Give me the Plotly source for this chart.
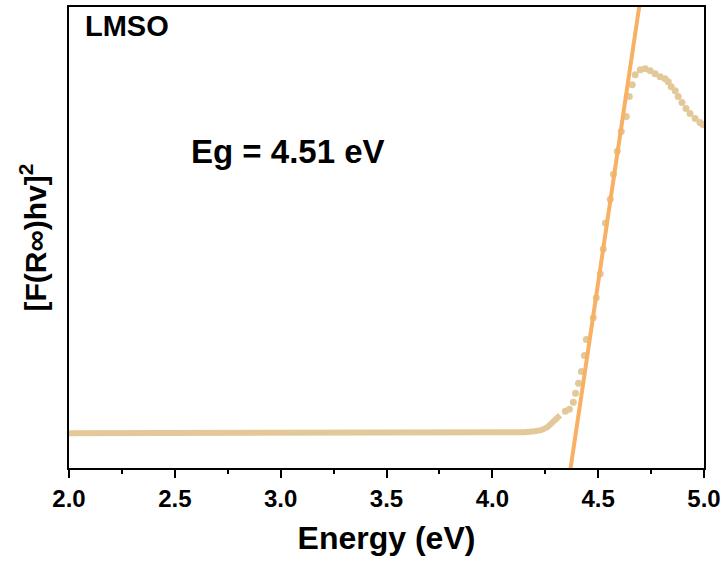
import plotly.graph_objects as go

# Baseline + knee of the Tauc curve (dense points, drawn as a thick line)
base_x = [2.0, 2.5, 3.0, 3.5, 3.9, 4.0, 4.05, 4.1, 4.15, 4.2, 4.23, 4.26, 4.28, 4.30, 4.32]
base_y = [0.35, 0.35, 0.35, 0.35, 0.35, 0.35, 0.352, 0.355, 0.36, 0.37, 0.38, 0.41, 0.45, 0.49, 0.53]

# Sparse points of the absorption edge and peak
pts_x = [4.345, 4.364, 4.383, 4.393, 4.407, 4.421, 4.435, 4.444, 4.477, 4.491, 4.510, 4.524,
         4.534, 4.557, 4.572, 4.590, 4.609, 4.633, 4.647, 4.661, 4.675, 4.699, 4.722, 4.746,
         4.769, 4.793, 4.816, 4.831, 4.845, 4.864, 4.878, 4.896, 4.915, 4.934, 4.958, 4.981, 4.995]
pts_y = [0.57, 0.59, 0.66, 0.75, 0.85, 0.97, 1.13, 1.29, 1.51, 1.71, 1.95, 2.20,
         2.46, 2.70, 2.95, 3.18, 3.38, 3.53, 3.73, 3.85, 3.95, 4.00, 4.01, 3.99,
         3.96, 3.93, 3.91, 3.88, 3.83, 3.79, 3.73, 3.67, 3.61, 3.56, 3.51, 3.47, 3.45]

# Linear fit of the edge
fit_x = [4.36, 4.70]
fit_y = [-0.14, 4.72]

x_ticks = [2.0, 2.5, 3.0, 3.5, 4.0, 4.5, 5.0]
x_labels = ["2.0", "2.5", "3.0", "3.5", "4.0", "4.5", "5.0"]

tan = "#E3C999"
orange = "#F8B064"

fig = go.Figure()
fig.add_trace(go.Scatter(x=base_x, y=base_y, mode="lines",
                         line=dict(color=tan, width=6), showlegend=False))
fig.add_trace(go.Scatter(x=pts_x, y=pts_y, mode="markers",
                         marker=dict(color=tan, size=7), showlegend=False))
fig.add_trace(go.Scatter(x=fit_x, y=fit_y, mode="lines",
                         line=dict(color=orange, width=4), showlegend=False))

bold = "Liberation Sans, Arial, sans-serif"

fig.update_layout(
    width=726, height=566,
    margin=dict(l=69, r=20, t=5, b=98),
    plot_bgcolor="white", paper_bgcolor="white",
    xaxis=dict(range=[2.0, 5.0], tickvals=x_ticks, ticktext=x_labels,
               showline=True, mirror=True, linecolor="black", linewidth=2,
               ticks="outside", ticklen=8, tickwidth=2, tickcolor="black",
               minor=dict(dtick=0.25, ticks="outside", ticklen=4, tickwidth=2, tickcolor="black"),
               showgrid=False, zeroline=False,
               tickfont=dict(family=bold, size=24, color="black", weight="bold"),
               title=dict(text="Energy (eV)", standoff=16,
                          font=dict(family=bold, size=32, color="black", weight="bold"))),
    yaxis=dict(range=[0, 4.63], showline=True, mirror=True, linecolor="black", linewidth=2,
               showticklabels=False, ticks="", showgrid=False, zeroline=False,
               title=dict(text="[F(R∞)hv]<sup>2</sup>", standoff=12,
                          font=dict(family=bold, size=30, color="black", weight="bold"))),
    annotations=[
        dict(text="LMSO", xref="paper", yref="paper", x=0.022, y=0.998,
             xanchor="left", yanchor="top", showarrow=False,
             font=dict(family=bold, size=29, color="black", weight="bold")),
        dict(text="Eg = 4.51 eV", xref="x", yref="y", x=3.036, y=3.18,
             xanchor="center", yanchor="middle", showarrow=False,
             font=dict(family=bold, size=33, color="black", weight="bold")),
    ],
)

fig.write_html("out.html", config={"displayModeBar": False},
               post_script="document.body.style.margin='0';")
